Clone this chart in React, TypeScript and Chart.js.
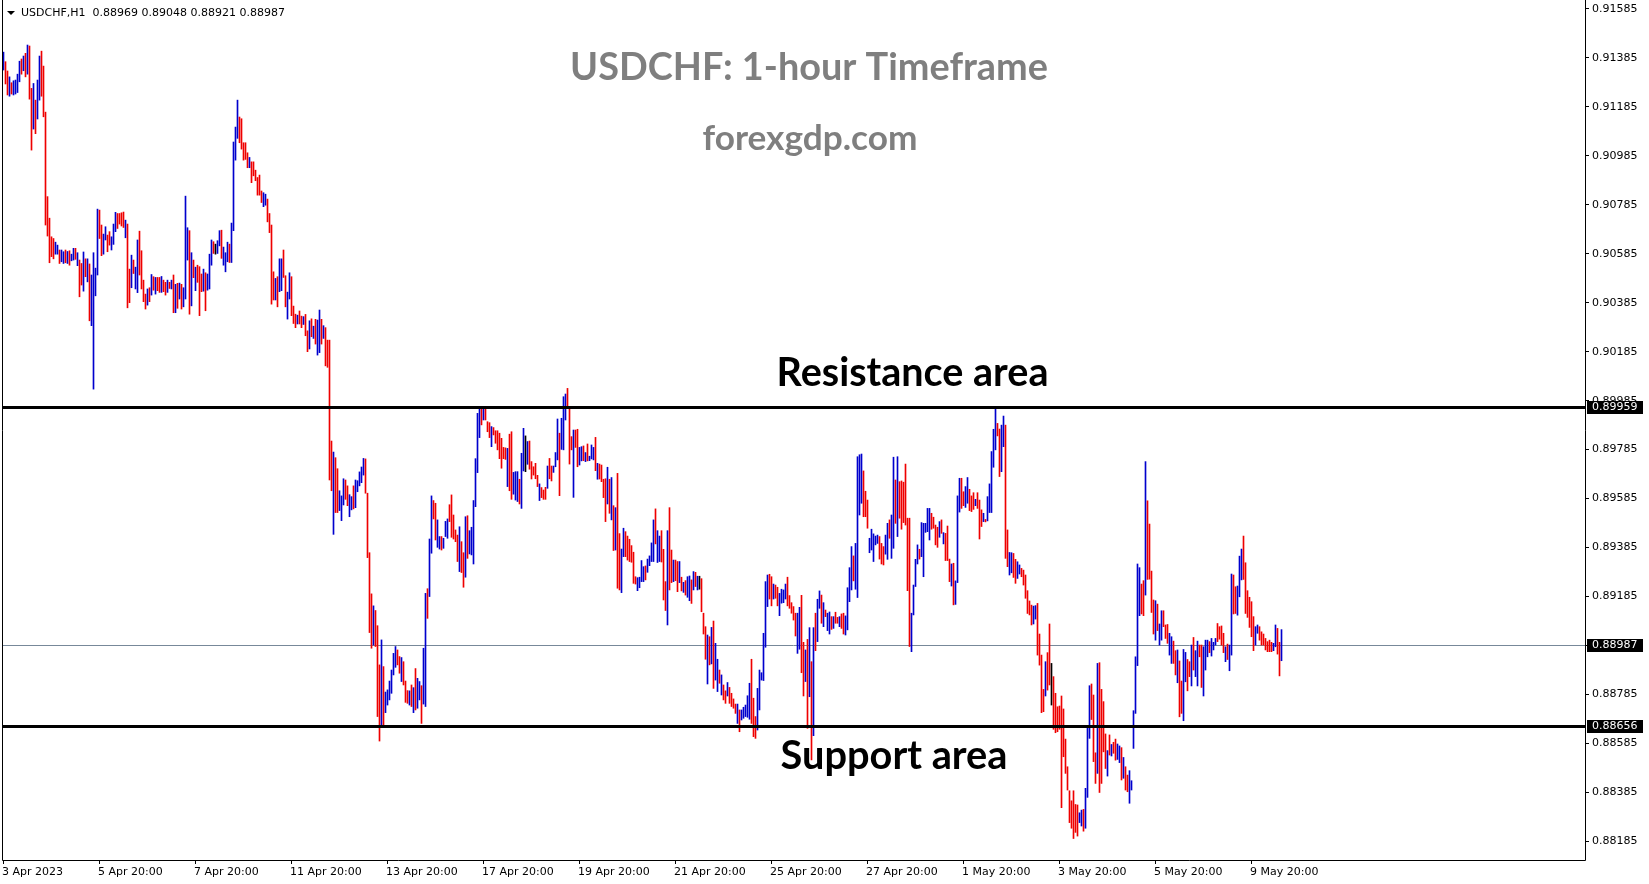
import React, { useEffect, useRef } from "react";
import { Chart, registerables } from "chart.js";

Chart.register(...registerables);

// ---- text ----
const symbolHeader = "USDCHF,H1  0.88969 0.89048 0.88921 0.88987";
const chartTitle = "USDCHF: 1-hour Timeframe";
const chartSubtitle = "forexgdp.com";
const resistanceText = "Resistance area";
const supportText = "Support area";

// ---- horizontal levels ----
const resistanceLevel = 0.89959;
const supportLevel = 0.88656;
const lastPrice = 0.88987;

// ---- axis ticks ----
const priceTicks = [
  0.91585, 0.91385, 0.91185, 0.90985, 0.90785, 0.90585, 0.90385, 0.90185, 0.89985,
  0.89785, 0.89585, 0.89385, 0.89185, 0.88985, 0.88785, 0.88585, 0.88385, 0.88185,
];
const timeTickBars = [0, 48, 96, 144, 192, 240, 288, 336, 384, 432, 480, 528, 576, 624];
const timeTickLabels = [
  "3 Apr 2023", "5 Apr 20:00", "7 Apr 20:00", "11 Apr 20:00", "13 Apr 20:00",
  "17 Apr 20:00", "19 Apr 20:00", "21 Apr 20:00", "25 Apr 20:00", "27 Apr 20:00",
  "1 May 20:00", "3 May 20:00", "5 May 20:00", "9 May 20:00",
];

// ---- hourly bars: high, low and direction (u = close above open, d = below, n = unchanged) ----
const barHigh = [
  0.91406, 0.91367, 0.91329, 0.91305, 0.91281, 0.91289, 0.91292, 0.91316, 0.91369, 0.91378,
  0.91390, 0.91401, 0.91435, 0.91431, 0.91258, 0.91278, 0.91210, 0.91292, 0.91390, 0.91410,
  0.91349, 0.91161, 0.90816, 0.90728, 0.90652, 0.90645, 0.90630, 0.90618, 0.90598, 0.90598,
  0.90591, 0.90598, 0.90592, 0.90595, 0.90581, 0.90605, 0.90605, 0.90587, 0.90557, 0.90543,
  0.90590, 0.90562, 0.90562, 0.90541, 0.90496, 0.90587, 0.90524, 0.90765, 0.90761, 0.90700,
  0.90663, 0.90693, 0.90659, 0.90673, 0.90652, 0.90704, 0.90752, 0.90747, 0.90747, 0.90750,
  0.90753, 0.90720, 0.90704, 0.90520, 0.90577, 0.90557, 0.90528, 0.90639, 0.90675, 0.90595,
  0.90475, 0.90418, 0.90439, 0.90444, 0.90498, 0.90489, 0.90486, 0.90486, 0.90486, 0.90490,
  0.90475, 0.90466, 0.90475, 0.90466, 0.90475, 0.90496, 0.90458, 0.90462, 0.90463, 0.90458,
  0.90444, 0.90818, 0.90689, 0.90677, 0.90587, 0.90557, 0.90528, 0.90536, 0.90530, 0.90500,
  0.90520, 0.90505, 0.90500, 0.90581, 0.90639, 0.90632, 0.90622, 0.90636, 0.90677, 0.90679,
  0.90610, 0.90587, 0.90630, 0.90622, 0.90708, 0.91039, 0.91100, 0.91210, 0.91141, 0.91134,
  0.91036, 0.91036, 0.90995, 0.90976, 0.90958, 0.90958, 0.90924, 0.90894, 0.90904, 0.90839,
  0.90832, 0.90826, 0.90806, 0.90747, 0.90700, 0.90509, 0.90482, 0.90489, 0.90562, 0.90562,
  0.90598, 0.90493, 0.90426, 0.90505, 0.90489, 0.90369, 0.90336, 0.90332, 0.90349, 0.90328,
  0.90326, 0.90335, 0.90268, 0.90309, 0.90317, 0.90287, 0.90315, 0.90312, 0.90353, 0.90315,
  0.90289, 0.90281, 0.90230, 0.90230, 0.89818, 0.89773, 0.89750, 0.89705, 0.89615, 0.89594,
  0.89664, 0.89659, 0.89635, 0.89599, 0.89591, 0.89635, 0.89659, 0.89656, 0.89692, 0.89712,
  0.89747, 0.89745, 0.89605, 0.89362, 0.89194, 0.89145, 0.89126, 0.89064, 0.88904, 0.89006,
  0.88897, 0.88793, 0.88802, 0.88838, 0.88883, 0.88951, 0.88979, 0.88965, 0.88938, 0.88934,
  0.88917, 0.88838, 0.88799, 0.88798, 0.88822, 0.88811, 0.88889, 0.88849, 0.88836, 0.88819,
  0.88972, 0.89196, 0.89215, 0.89418, 0.89594, 0.89575, 0.89564, 0.89496, 0.89428, 0.89428,
  0.89421, 0.89490, 0.89500, 0.89558, 0.89598, 0.89516, 0.89455, 0.89434, 0.89468, 0.89407,
  0.89362, 0.89509, 0.89513, 0.89452, 0.89466, 0.89575, 0.89746, 0.89931, 0.89958, 0.89958,
  0.89958, 0.89956, 0.89897, 0.89893, 0.89877, 0.89873, 0.89860, 0.89860, 0.89850, 0.89829,
  0.89792, 0.89790, 0.89788, 0.89846, 0.89856, 0.89690, 0.89693, 0.89693, 0.89662, 0.89768,
  0.89870, 0.89839, 0.89816, 0.89818, 0.89734, 0.89713, 0.89727, 0.89678, 0.89643, 0.89628,
  0.89618, 0.89629, 0.89716, 0.89747, 0.89716, 0.89716, 0.89771, 0.89908, 0.89850, 0.89911,
  0.89999, 0.90010, 0.90033, 0.89948, 0.89836, 0.89863, 0.89863, 0.89866, 0.89792, 0.89795,
  0.89798, 0.89771, 0.89806, 0.89756, 0.89802, 0.89792, 0.89833, 0.89727, 0.89724, 0.89720,
  0.89662, 0.89664, 0.89711, 0.89662, 0.89669, 0.89554, 0.89546, 0.89686, 0.89440, 0.89377,
  0.89462, 0.89448, 0.89430, 0.89417, 0.89391, 0.89364, 0.89264, 0.89260, 0.89262, 0.89330,
  0.89305, 0.89308, 0.89336, 0.89349, 0.89402, 0.89496, 0.89541, 0.89452, 0.89430, 0.89452,
  0.89376, 0.89244, 0.89452, 0.89546, 0.89373, 0.89332, 0.89332, 0.89326, 0.89326, 0.89262,
  0.89241, 0.89248, 0.89264, 0.89267, 0.89251, 0.89285, 0.89282, 0.89266, 0.89266, 0.89256,
  0.89115, 0.89060, 0.89026, 0.89019, 0.89057, 0.89083, 0.88992, 0.88927, 0.88883, 0.88863,
  0.88822, 0.88798, 0.88832, 0.88812, 0.88788, 0.88765, 0.88744, 0.88744, 0.88720, 0.88720,
  0.88731, 0.88740, 0.88778, 0.88829, 0.88927, 0.88768, 0.88693, 0.88808, 0.88883, 0.88872,
  0.89033, 0.89244, 0.89271, 0.89274, 0.89264, 0.89234, 0.89230, 0.89221, 0.89196, 0.89213,
  0.89210, 0.89234, 0.89262, 0.89187, 0.89158, 0.89142, 0.89115, 0.89115, 0.89139, 0.89188,
  0.88996, 0.88965, 0.89008, 0.89056, 0.88917, 0.89056, 0.89115, 0.89172, 0.89206, 0.89189,
  0.89158, 0.89128, 0.89115, 0.89120, 0.89101, 0.89101, 0.89119, 0.89098, 0.89101, 0.89112,
  0.89115, 0.89104, 0.89219, 0.89301, 0.89387, 0.89349, 0.89400, 0.89754, 0.89762, 0.89765,
  0.89696, 0.89613, 0.89577, 0.89421, 0.89458, 0.89439, 0.89430, 0.89434, 0.89428, 0.89400,
  0.89387, 0.89434, 0.89482, 0.89496, 0.89516, 0.89752, 0.89659, 0.89754, 0.89652, 0.89655,
  0.89650, 0.89724, 0.89503, 0.89503, 0.89115, 0.89230, 0.89335, 0.89394, 0.89376, 0.89485,
  0.89482, 0.89482, 0.89543, 0.89543, 0.89523, 0.89507, 0.89475, 0.89466, 0.89489, 0.89496,
  0.89444, 0.89441, 0.89471, 0.89336, 0.89316, 0.89319, 0.89247, 0.89594, 0.89666, 0.89666,
  0.89611, 0.89632, 0.89669, 0.89621, 0.89594, 0.89607, 0.89580, 0.89607, 0.89577, 0.89537,
  0.89523, 0.89498, 0.89591, 0.89643, 0.89775, 0.89866, 0.89952, 0.89890, 0.89867, 0.89883,
  0.89920, 0.89883, 0.89455, 0.89363, 0.89362, 0.89359, 0.89335, 0.89325, 0.89312, 0.89298,
  0.89291, 0.89271, 0.89207, 0.89165, 0.89148, 0.89144, 0.89146, 0.89155, 0.89030, 0.88944,
  0.88804, 0.88917, 0.88954, 0.89071, 0.88910, 0.88856, 0.88788, 0.88733, 0.88736, 0.88777,
  0.88724, 0.88601, 0.88488, 0.88390, 0.88349, 0.88390, 0.88334, 0.88332, 0.88300, 0.88311,
  0.88314, 0.88400, 0.88652, 0.88819, 0.88826, 0.88781, 0.88545, 0.88910, 0.88913, 0.88804,
  0.88754, 0.88622, 0.88554, 0.88618, 0.88579, 0.88588, 0.88601, 0.88581, 0.88573, 0.88566,
  0.88526, 0.88488, 0.88454, 0.88472, 0.88431, 0.88717, 0.88937, 0.89316, 0.89301, 0.89234,
  0.89248, 0.89734, 0.89574, 0.89479, 0.89287, 0.89169, 0.89166, 0.89152, 0.89071, 0.89125,
  0.89125, 0.89067, 0.89069, 0.89033, 0.89019, 0.89001, 0.88962, 0.88965, 0.88920, 0.88838,
  0.88967, 0.88955, 0.88926, 0.88917, 0.88985, 0.89016, 0.88962, 0.89001, 0.88985, 0.88985,
  0.88978, 0.89005, 0.89005, 0.88999, 0.89012, 0.88996, 0.89012, 0.89073, 0.89060, 0.89063,
  0.89033, 0.88978, 0.88989, 0.88985, 0.89275, 0.89271, 0.89223, 0.89226, 0.89348, 0.89377,
  0.89430, 0.89321, 0.89207, 0.89180, 0.89162, 0.89101, 0.89060, 0.89067, 0.89060, 0.89039,
  0.89030, 0.89012, 0.88999, 0.89005, 0.88996, 0.88992, 0.89067, 0.89053, 0.88996, 0.89048,
];

const barLow = [
  0.91333, 0.91276, 0.91231, 0.91226, 0.91235, 0.91231, 0.91235, 0.91241, 0.91285, 0.91316,
  0.91330, 0.91305, 0.91316, 0.91214, 0.91006, 0.91092, 0.91073, 0.91133, 0.91210, 0.91226,
  0.91142, 0.90700, 0.90655, 0.90546, 0.90571, 0.90562, 0.90581, 0.90581, 0.90543, 0.90550,
  0.90543, 0.90546, 0.90543, 0.90536, 0.90554, 0.90557, 0.90560, 0.90534, 0.90407, 0.90455,
  0.90430, 0.90489, 0.90468, 0.90309, 0.90289, 0.90030, 0.90411, 0.90496, 0.90645, 0.90575,
  0.90581, 0.90639, 0.90591, 0.90618, 0.90598, 0.90621, 0.90673, 0.90686, 0.90704, 0.90696,
  0.90690, 0.90648, 0.90362, 0.90383, 0.90444, 0.90502, 0.90439, 0.90424, 0.90496, 0.90439,
  0.90387, 0.90357, 0.90373, 0.90387, 0.90414, 0.90434, 0.90418, 0.90432, 0.90425, 0.90425,
  0.90428, 0.90414, 0.90425, 0.90441, 0.90439, 0.90342, 0.90342, 0.90360, 0.90398, 0.90357,
  0.90366, 0.90398, 0.90557, 0.90336, 0.90370, 0.90485, 0.90432, 0.90466, 0.90330, 0.90428,
  0.90430, 0.90350, 0.90434, 0.90439, 0.90536, 0.90584, 0.90581, 0.90584, 0.90615, 0.90564,
  0.90536, 0.90509, 0.90550, 0.90547, 0.90547, 0.90677, 0.90965, 0.91054, 0.91036, 0.91010,
  0.90965, 0.90968, 0.90934, 0.90934, 0.90873, 0.90901, 0.90881, 0.90822, 0.90822, 0.90792,
  0.90775, 0.90781, 0.90713, 0.90669, 0.90377, 0.90394, 0.90394, 0.90366, 0.90428, 0.90432,
  0.90486, 0.90366, 0.90316, 0.90398, 0.90330, 0.90298, 0.90281, 0.90296, 0.90296, 0.90281,
  0.90294, 0.90248, 0.90183, 0.90194, 0.90244, 0.90237, 0.90214, 0.90169, 0.90179, 0.90214,
  0.90237, 0.90125, 0.90119, 0.89659, 0.89615, 0.89437, 0.89526, 0.89526, 0.89534, 0.89493,
  0.89557, 0.89580, 0.89554, 0.89509, 0.89537, 0.89541, 0.89546, 0.89611, 0.89635, 0.89648,
  0.89679, 0.89605, 0.89342, 0.89036, 0.88972, 0.88985, 0.88979, 0.88693, 0.88593, 0.88659,
  0.88659, 0.88709, 0.88740, 0.88761, 0.88788, 0.88863, 0.88894, 0.88904, 0.88870, 0.88836,
  0.88822, 0.88751, 0.88747, 0.88740, 0.88734, 0.88709, 0.88720, 0.88727, 0.88761, 0.88665,
  0.88744, 0.88734, 0.89094, 0.89183, 0.89360, 0.89500, 0.89414, 0.89384, 0.89377, 0.89373,
  0.89380, 0.89428, 0.89421, 0.89489, 0.89425, 0.89418, 0.89407, 0.89326, 0.89285, 0.89281,
  0.89221, 0.89262, 0.89339, 0.89357, 0.89353, 0.89316, 0.89550, 0.89689, 0.89832, 0.89884,
  0.89904, 0.89904, 0.89856, 0.89832, 0.89795, 0.89843, 0.89809, 0.89782, 0.89746, 0.89707,
  0.89746, 0.89743, 0.89632, 0.89615, 0.89580, 0.89601, 0.89577, 0.89571, 0.89561, 0.89543,
  0.89696, 0.89693, 0.89723, 0.89703, 0.89663, 0.89679, 0.89664, 0.89632, 0.89575, 0.89587,
  0.89580, 0.89580, 0.89625, 0.89664, 0.89655, 0.89690, 0.89713, 0.89741, 0.89595, 0.89784,
  0.89782, 0.89904, 0.89952, 0.89724, 0.89782, 0.89588, 0.89792, 0.89713, 0.89720, 0.89737,
  0.89738, 0.89734, 0.89737, 0.89738, 0.89745, 0.89741, 0.89697, 0.89662, 0.89663, 0.89652,
  0.89587, 0.89489, 0.89561, 0.89523, 0.89496, 0.89371, 0.89373, 0.89217, 0.89210, 0.89199,
  0.89346, 0.89346, 0.89332, 0.89326, 0.89323, 0.89237, 0.89234, 0.89207, 0.89219, 0.89244,
  0.89244, 0.89251, 0.89282, 0.89309, 0.89326, 0.89326, 0.89398, 0.89322, 0.89326, 0.89324,
  0.89169, 0.89126, 0.89067, 0.89210, 0.89240, 0.89244, 0.89248, 0.89203, 0.89240, 0.89206,
  0.89200, 0.89189, 0.89180, 0.89166, 0.89155, 0.89210, 0.89224, 0.89210, 0.89213, 0.89121,
  0.89030, 0.88927, 0.88826, 0.88904, 0.88908, 0.88808, 0.88842, 0.88795, 0.88829, 0.88781,
  0.88761, 0.88747, 0.88777, 0.88747, 0.88734, 0.88727, 0.88706, 0.88665, 0.88631, 0.88679,
  0.88686, 0.88693, 0.88690, 0.88682, 0.88665, 0.88611, 0.88604, 0.88638, 0.88720, 0.88842,
  0.88840, 0.88976, 0.89142, 0.89173, 0.89145, 0.89173, 0.89176, 0.89145, 0.89105, 0.89156,
  0.89158, 0.89173, 0.89145, 0.89135, 0.89115, 0.89087, 0.89022, 0.88951, 0.88968, 0.88872,
  0.88777, 0.88836, 0.88645, 0.88774, 0.88516, 0.88615, 0.88962, 0.88999, 0.89135, 0.89074,
  0.89060, 0.89101, 0.89044, 0.89030, 0.89049, 0.89053, 0.89074, 0.89074, 0.89060, 0.89053,
  0.89030, 0.89026, 0.89047, 0.89162, 0.89210, 0.89247, 0.89213, 0.89179, 0.89516, 0.89564,
  0.89509, 0.89509, 0.89462, 0.89362, 0.89373, 0.89326, 0.89394, 0.89400, 0.89336, 0.89316,
  0.89312, 0.89356, 0.89335, 0.89421, 0.89339, 0.89380, 0.89482, 0.89428, 0.89503, 0.89458,
  0.89485, 0.89475, 0.89207, 0.88979, 0.88958, 0.89108, 0.89224, 0.89316, 0.89336, 0.89346,
  0.89264, 0.89445, 0.89448, 0.89414, 0.89458, 0.89462, 0.89394, 0.89384, 0.89425, 0.89441,
  0.89398, 0.89330, 0.89330, 0.89244, 0.89226, 0.89149, 0.89151, 0.89240, 0.89528, 0.89543,
  0.89554, 0.89547, 0.89564, 0.89534, 0.89530, 0.89539, 0.89554, 0.89543, 0.89418, 0.89469,
  0.89489, 0.89488, 0.89492, 0.89526, 0.89526, 0.89711, 0.89782, 0.89839, 0.89673, 0.89693,
  0.89795, 0.89339, 0.89305, 0.89271, 0.89280, 0.89261, 0.89237, 0.89257, 0.89275, 0.89264,
  0.89230, 0.89176, 0.89114, 0.89108, 0.89067, 0.89071, 0.89091, 0.88944, 0.88903, 0.88709,
  0.88713, 0.88777, 0.88801, 0.88822, 0.88740, 0.88641, 0.88627, 0.88631, 0.88641, 0.88321,
  0.88529, 0.88461, 0.88393, 0.88260, 0.88237, 0.88195, 0.88220, 0.88205, 0.88260, 0.88246,
  0.88225, 0.88237, 0.88363, 0.88604, 0.88681, 0.88509, 0.88420, 0.88461, 0.88383, 0.88420,
  0.88549, 0.88481, 0.88450, 0.88536, 0.88532, 0.88543, 0.88515, 0.88518, 0.88505, 0.88434,
  0.88441, 0.88393, 0.88386, 0.88339, 0.88393, 0.88563, 0.88706, 0.88901, 0.89105, 0.89112,
  0.89105, 0.89189, 0.89253, 0.89254, 0.89118, 0.89030, 0.89005, 0.89044, 0.88985, 0.89005,
  0.89060, 0.89012, 0.88992, 0.88944, 0.88910, 0.88910, 0.88863, 0.88831, 0.88692, 0.88706,
  0.88676, 0.88835, 0.88798, 0.88856, 0.88818, 0.88883, 0.88856, 0.88818, 0.88937, 0.88812,
  0.88777, 0.88883, 0.88937, 0.88954, 0.88940, 0.88965, 0.88985, 0.88999, 0.89009, 0.88985,
  0.88954, 0.88917, 0.88926, 0.88880, 0.88944, 0.89112, 0.89114, 0.89107, 0.89182, 0.89251,
  0.89253, 0.89114, 0.89098, 0.89057, 0.89019, 0.88962, 0.88985, 0.89033, 0.89005, 0.88985,
  0.88985, 0.88965, 0.88958, 0.88958, 0.88958, 0.88962, 0.88978, 0.88948, 0.88859, 0.88921,
];

const barDirection =
  "udduduuuud" + "ududduduud" + "dddddduudu" + "ududuududd" + "ududuuuudd" +
  "uudduuuddd" + "dudduduudd" + "ddudududdu" + "ddudududud" + "uuudududdd" +
  "uduuudnuud" + "uuuduuuudd" + "dddudddddd" + "uudddduduu" + "dduudddudd" +
  "uddududuud" + "uddddudduu" + "udduuduuuu" + "uddddudddu" + "duuuuuuddu" +
  "dddududuud" + "uuduudduud" + "uuudddddud" + "duduuuuuud" + "uddduddddd" +
  "ddudduuudu" + "unudddddud" + "ddudduuudu" + "uudddudduu" + "duduuududd" +
  "ddudududdu" + "udddddduuu" + "uduuuuduud" + "ddudduddud" + "uduududund" +
  "ddududuudu" + "dduddddudu" + "uuuuddduuu" + "uuuddudduu" + "uuddddduud" +
  "dudududuud" + "uduududdud" + "duuuuduuuu" + "ddduuuuudd" + "duuduududd" +
  "dddduuuudu" + "uuuuddddud" + "uddduduuud" + "duuddduddd" + "uduuuuuddu" +
  "udduudduud" + "ddddduuddd" + "duddnddddd" + "dddddddduu" + "duuudddudd" +
  "ddududduud" + "udduuuuuud" + "dudddduduu" + "ddduuddudd" + "uudduduudd" +
  "uuuduuuddd" + "duduudduuu" + "dddddduudd" + "ddddduuddu";

// ---- colours ----
const upColor = "#0000cd";
const downColor = "#ee0000";
const flatColor = "#000000";
const levelColor = "#000000";
const bidLineColor = "#778899";
const titleColor = "#7f7f7f";

// ---- axis range ----
const priceMin = 0.881073;
const priceMax = 0.916107;
const barAxisMin = -0.75;
const barAxisMax = 790.75;

const AXIS_FONT = "11px 'DejaVu Sans'";
const TEXT_FAMILY = "Lato";

function fitFont(ctx: CanvasRenderingContext2D, text: string, width: number) {
  ctx.font = `bold 100px ${TEXT_FAMILY}`;
  const w = ctx.measureText(text).width;
  return (100 * width) / w;
}

function drawCentered(
  ctx: CanvasRenderingContext2D,
  text: string,
  cx: number,
  baseline: number,
  width: number,
  color: string
) {
  const size = fitFont(ctx, text, width);
  ctx.font = `bold ${size}px ${TEXT_FAMILY}`;
  ctx.fillStyle = color;
  ctx.textAlign = "center";
  ctx.textBaseline = "alphabetic";
  ctx.fillText(text, cx, baseline);
}

const overlayPlugin = {
  id: "terminalOverlay",
  beforeDatasetsDraw(chart: any) {
    const { ctx, chartArea: a } = chart;
    const y = chart.scales.y;
    const py = Math.round(y.getPixelForValue(lastPrice)) + 0.5;
    ctx.save();
    ctx.strokeStyle = bidLineColor;
    ctx.lineWidth = 1;
    ctx.beginPath();
    ctx.moveTo(a.left, py);
    ctx.lineTo(a.right, py);
    ctx.stroke();
    ctx.restore();
  },
  afterDatasetsDraw(chart: any) {
    const { ctx, chartArea: a } = chart;
    const x = chart.scales.x;
    const y = chart.scales.y;
    ctx.save();

    // support / resistance levels
    ctx.strokeStyle = levelColor;
    ctx.lineWidth = 3;
    for (const lv of [resistanceLevel, supportLevel]) {
      const py = Math.round(y.getPixelForValue(lv)) + 0.5;
      ctx.beginPath();
      ctx.moveTo(a.left, py);
      ctx.lineTo(a.right, py);
      ctx.stroke();
    }

    // frame
    ctx.strokeStyle = "#000";
    ctx.lineWidth = 1;
    ctx.beginPath();
    ctx.moveTo(a.left + 0.5, 0);
    ctx.lineTo(a.left + 0.5, a.bottom + 0.5);
    ctx.lineTo(a.right + 0.5, a.bottom + 0.5);
    ctx.lineTo(a.right + 0.5, 0);
    ctx.stroke();

    // price axis
    ctx.font = AXIS_FONT;
    ctx.fillStyle = "#000";
    ctx.textAlign = "left";
    ctx.textBaseline = "middle";
    for (const v of priceTicks) {
      const py = y.getPixelForValue(v);
      const ry = Math.round(py) + 0.5;
      ctx.beginPath();
      ctx.moveTo(a.right, ry);
      ctx.lineTo(a.right + 4, ry);
      ctx.stroke();
      ctx.fillText(v.toFixed(5), a.right + 7, py + 0.5);
    }

    // time axis
    ctx.textBaseline = "middle";
    timeTickBars.forEach((b, k) => {
      const px = x.getPixelForValue(b);
      const rx = Math.floor(px) + 0.5;
      ctx.beginPath();
      ctx.moveTo(rx, a.bottom);
      ctx.lineTo(rx, a.bottom + 4);
      ctx.stroke();
      ctx.fillText(timeTickLabels[k], px - 1.5, a.bottom + 12);
    });

    // price boxes
    for (const v of [resistanceLevel, lastPrice, supportLevel]) {
      const ry = Math.round(y.getPixelForValue(v));
      ctx.fillStyle = "#000";
      ctx.fillRect(a.right + 2, ry - 6, 56, 13);
      ctx.fillStyle = "#fff";
      ctx.fillText(v.toFixed(5), a.right + 7, ry + 0.5);
    }

    // header
    ctx.fillStyle = "#000";
    ctx.beginPath();
    ctx.moveTo(7, 11);
    ctx.lineTo(15, 11);
    ctx.lineTo(11, 15);
    ctx.closePath();
    ctx.fill();
    ctx.font = AXIS_FONT;
    ctx.textAlign = "left";
    ctx.fillText(symbolHeader, 21, 13);

    // titles and annotations
    drawCentered(ctx, chartTitle, 809, 80, 478, titleColor);
    drawCentered(ctx, chartSubtitle, 810, 150, 215, titleColor);
    drawCentered(ctx, resistanceText, 912.5, 385.5, 272, "#000");
    drawCentered(ctx, supportText, 894, 769, 227, "#000");

    ctx.restore();
  },
};

export default function App() {
  const canvasRef = useRef<HTMLCanvasElement | null>(null);

  useEffect(() => {
    const canvas = canvasRef.current;
    if (!canvas) return;
    const colors = barHigh.map((_, i) => {
      const c = barDirection.charAt(i);
      return c === "u" ? upColor : c === "d" ? downColor : flatColor;
    });
    const chart = new Chart(canvas, {
      type: "bar",
      data: {
        datasets: [
          {
            data: barHigh.map((h, i) => ({ x: i, y: [barLow[i], h] })) as any,
            backgroundColor: colors,
            borderWidth: 0,
            barThickness: 1,
            minBarLength: 1,
          },
        ],
      },
      options: {
        animation: false,
        responsive: false,
        devicePixelRatio: 1,
        events: [],
        layout: { padding: { left: 2, top: 2, right: 64, bottom: 24 } },
        plugins: { legend: { display: false }, tooltip: { enabled: false } },
        scales: {
          x: { type: "linear", min: barAxisMin, max: barAxisMax, offset: false, display: false },
          y: { type: "linear", min: priceMin, max: priceMax, display: false },
        },
      },
      plugins: [overlayPlugin],
    });
    return () => chart.destroy();
  }, []);

  return (
    <div style={{ position: "absolute", left: 0, top: 0, width: 1649, height: 884, background: "#fff" }}>
      <canvas ref={canvasRef} width={1649} height={884} style={{ display: "block" }} />
    </div>
  );
}
